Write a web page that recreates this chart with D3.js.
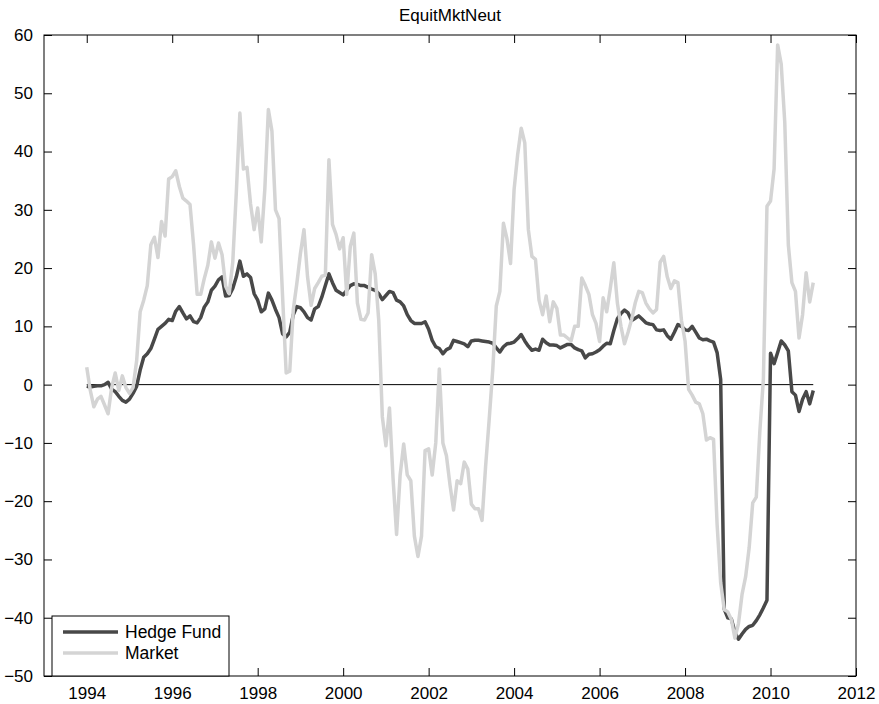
<!DOCTYPE html>
<meta charset="utf-8">
<script src="https://d3js.org/d3.v7.min.js"></script>
<style>
body { margin: 0; background: #fff; }
svg { display: block; font-family: "Liberation Sans", Arial, Helvetica, sans-serif; }
.axis text { font-size: 17px; fill: #000; }
</style>
<body>
<script>

// monthly observations, Jan 1994 .. Jan 2011
var startYear = 1994;

var hedgeFund = [
  -0.3, -0.4, -0.3, -0.2, -0.2, 0.0, 0.4, -0.8, -1.2, -2.0, -2.7, -3.0,
  -2.5, -1.5, -0.3, 2.5, 4.7, 5.3, 6.2, 7.8, 9.5, 10.0, 10.5, 11.2,
  11.0, 12.6, 13.4, 12.3, 11.3, 11.8, 10.8, 10.6, 11.5, 13.3, 14.2, 16.2,
  16.9, 18.0, 18.5, 15.2, 15.3, 16.5, 18.5, 21.2, 18.6, 19.0, 18.4, 15.6,
  14.5, 12.5, 13.0, 15.7, 14.5, 12.9, 11.5, 8.7, 8.2, 9.0, 12.0, 13.4,
  13.2, 12.5, 11.5, 11.1, 13.0, 13.4, 15.0, 17.0, 19.0, 17.5, 16.2, 15.8,
  15.4, 16.2, 17.0, 17.3, 17.2, 17.0, 17.0, 16.7, 16.4, 16.2, 15.6, 14.6,
  15.3, 16.0, 15.8, 14.5, 14.2, 13.5, 12.0, 11.0, 10.5, 10.5, 10.5, 10.8,
  9.5, 7.6, 6.5, 6.2, 5.3, 6.0, 6.3, 7.6, 7.4, 7.2, 7.0, 6.5,
  7.5, 7.6, 7.6, 7.5, 7.4, 7.3, 7.1, 6.3, 5.6, 6.5, 7.0, 7.1,
  7.3, 7.9, 8.6, 7.5, 6.6, 5.9, 6.1, 5.9, 7.8, 7.2, 6.8, 6.8,
  6.7, 6.3, 6.6, 6.9, 6.9, 6.3, 6.0, 5.8, 4.6, 5.2, 5.3, 5.6,
  6.0, 6.6, 7.1, 7.0, 9.3, 11.3, 12.2, 12.8, 12.3, 11.0, 11.4, 11.8,
  11.2, 10.6, 10.4, 10.3, 9.4, 9.3, 9.4, 8.4, 7.8, 9.0, 10.3, 10.0,
  9.4, 9.3, 10.0, 9.0, 8.0, 7.7, 7.8, 7.5, 7.3, 5.5, 0.9, -38.5,
  -40.0, -40.2, -42.5, -43.7, -42.8, -42.0, -41.5, -41.3, -40.5, -39.5, -38.3, -37.0,
  5.4, 3.6, 5.5, 7.5, 6.8, 5.8, -1.2, -1.8, -4.6, -2.5, -1.2, -3.3,
  -1.0
];

var market = [
  3.0, -1.0, -3.8, -2.5, -2.0, -3.5, -5.0, -0.5, 2.0, -1.0, 1.5, -0.5,
  -1.5, -0.5, 4.0, 12.5, 14.5, 17.0, 24.0, 25.3, 21.8, 28.0, 25.5, 35.3,
  35.7, 36.7, 34.0, 32.0, 31.5, 30.9, 24.0, 15.5, 15.5, 18.2, 20.5, 24.5,
  21.7, 24.3, 22.3, 16.9, 15.6, 21.0, 33.0, 46.6, 37.0, 37.3, 31.0, 26.6,
  30.3, 24.5, 33.5, 47.2, 43.5, 30.0, 28.5, 15.0, 2.0, 2.3, 12.9, 17.4,
  22.5, 26.6, 18.5, 13.6, 16.5, 17.5, 18.6, 18.8, 38.6, 27.5, 25.8, 23.3,
  25.2, 15.5, 23.7, 26.0, 14.0, 11.2, 11.1, 12.3, 22.3, 19.0, 11.0, -5.5,
  -10.5, -4.0, -16.0, -25.7, -15.5, -10.2, -15.5, -16.5, -26.0, -29.5, -26.0, -11.3,
  -11.0, -15.5, -10.0, 2.7, -10.0, -12.2, -17.2, -21.5, -16.5, -17.0, -13.3, -14.5,
  -20.5, -21.3, -21.3, -23.3, -14.0, -6.0, 2.5, 13.5, 16.0, 27.7, 25.0, 20.8,
  33.5, 39.5, 44.0, 41.5, 26.6, 22.0, 21.5, 14.5, 12.0, 15.2, 10.8, 14.2,
  13.1, 8.5, 8.5, 8.0, 7.5, 10.0, 10.0, 18.3, 17.0, 15.5, 12.0, 10.5,
  7.4, 14.9, 12.5, 16.5, 20.9, 14.0, 10.0, 7.0, 9.0, 11.2, 14.0, 16.0,
  15.8, 14.0, 13.0, 12.3, 12.9, 21.0, 22.0, 18.5, 16.5, 17.8, 17.5, 11.0,
  7.5, -0.8, -1.8, -3.0, -3.3, -5.0, -9.5, -9.1, -9.4, -24.0, -34.0, -38.6,
  -39.0, -40.3, -43.5, -41.0, -36.0, -33.0, -28.0, -20.3, -19.3, -8.0, 1.0, 30.6,
  31.5, 37.0, 58.3, 55.0, 45.0, 24.0, 17.5, 16.0, 8.0, 12.0, 19.2, 14.2,
  17.5
];

var seriesNames = ["Hedge Fund", "Market"];
var seriesColors = ["#484848", "#d4d4d4"];
var xTicks = d3.range(1994, 2013, 2);
var yTicks = d3.range(-50, 61, 10);

var width = 879, height = 704;
var margin = {top: 35, right: 23, bottom: 28, left: 44};

var svg = d3.select("body").append("svg")
    .attr("width", width)
    .attr("height", height);

svg.append("rect").attr("width", width).attr("height", height).attr("fill", "#fff");

var x = d3.scaleLinear().domain([1993, 2012]).range([margin.left, width - margin.right]);
var y = d3.scaleLinear().domain([-50, 60]).range([height - margin.bottom, margin.top]);

function dateOf(i) { return startYear + i / 12; }

// axes, ticks inside like matlab
var bottom = svg.append("g").attr("class", "axis")
    .attr("transform", "translate(0," + y(-50) + ")")
    .call(d3.axisBottom(x).tickValues(xTicks).tickFormat(d3.format("d")).tickSizeInner(-8).tickSizeOuter(0).tickPadding(11));
var top = svg.append("g").attr("class", "axis")
    .attr("transform", "translate(0," + y(60) + ")")
    .call(d3.axisTop(x).tickValues(xTicks).tickFormat("").tickSizeInner(-8).tickSizeOuter(0));
var left = svg.append("g").attr("class", "axis")
    .attr("transform", "translate(" + x(1993) + ",0)")
    .call(d3.axisLeft(y).tickValues(yTicks).tickSizeInner(-8).tickSizeOuter(0).tickPadding(11));
var right = svg.append("g").attr("class", "axis")
    .attr("transform", "translate(" + x(2012) + ",0)")
    .call(d3.axisRight(y).tickValues(yTicks).tickFormat("").tickSizeInner(-8).tickSizeOuter(0));

svg.selectAll(".axis .domain").remove();
svg.selectAll(".axis line").attr("stroke", "#000").attr("stroke-width", 1);

// zero line over the data span
svg.append("line")
    .attr("x1", x(dateOf(0))).attr("x2", x(dateOf(hedgeFund.length - 1)))
    .attr("y1", y(0)).attr("y2", y(0))
    .attr("stroke", "#000").attr("stroke-width", 1);

var line = d3.line()
    .x(function(d, i) { return x(dateOf(i)); })
    .y(function(d) { return y(d); });

[hedgeFund, market].forEach(function(s, k) {
    svg.append("path")
        .datum(s)
        .attr("fill", "none")
        .attr("stroke", seriesColors[k])
        .attr("stroke-width", 3.5)
        .attr("stroke-linejoin", "round")
        .attr("d", line);
});

// box
svg.append("rect")
    .attr("x", x(1993)).attr("y", y(60))
    .attr("width", x(2012) - x(1993)).attr("height", y(-50) - y(60))
    .attr("fill", "none").attr("stroke", "#000").attr("stroke-width", 1);

svg.append("text")
    .attr("x", (x(1993) + x(2012)) / 2)
    .attr("y", 21)
    .attr("text-anchor", "middle")
    .attr("font-size", "17px")
    .text("EquitMktNeut");

// legend
var lg = svg.append("g").attr("transform", "translate(52,616)");
lg.append("rect").attr("width", 177).attr("height", 60)
    .attr("fill", "#fff").attr("stroke", "#000").attr("stroke-width", 1);
seriesNames.forEach(function(n, k) {
    var yy = 16 + k * 21;
    lg.append("line").attr("x1", 11).attr("x2", 66).attr("y1", yy).attr("y2", yy)
        .attr("stroke", seriesColors[k]).attr("stroke-width", 3.5);
    lg.append("text").attr("x", 73).attr("y", yy + 6).attr("font-size", "17.5px").text(n);
});

</script>
</body>
